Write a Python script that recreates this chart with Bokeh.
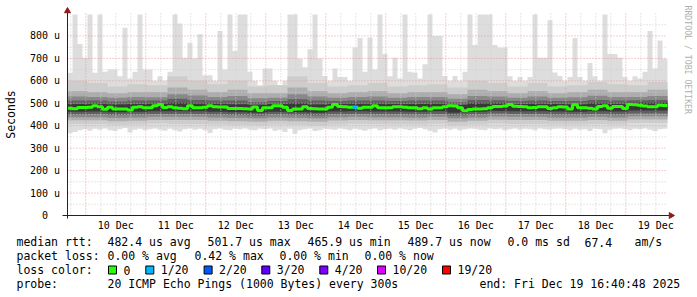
from datetime import datetime
from math import pi

from bokeh.plotting import figure
from bokeh.models import Range1d
from bokeh.core.properties import value
from bokeh.embed import file_html
from bokeh.resources import INLINE

# ---------------- data ----------------
ORIGIN = datetime(2025, 12, 10, 0, 0, 0)
START = datetime(2025, 12, 9, 16, 40, 48)
END = datetime(2025, 12, 19, 16, 40, 48)
BIN_HOURS = 2          # resolution of max/min/median series
BAND_HOURS = 8         # resolution of inner smoke bands

day_dates = [datetime(2025, 12, d) for d in range(10, 20)]
day_labels = ["10 Dec", "11 Dec", "12 Dec", "13 Dec", "14 Dec",
              "15 Dec", "16 Dec", "17 Dec", "18 Dec", "19 Dec"]
y_ticks = [0, 100, 200, 300, 400, 500, 600, 700, 800]
y_minor = [50, 150, 250, 350, 450, 550, 650, 750, 850]
y_labels = ["0\u00a0\u00a0", "100 u", "200 u", "300 u", "400 u",
            "500 u", "600 u", "700 u", "800 u"]

# max ping (us)
top = [636, 895, 764, 703, 895, 636, 895, 640, 650, 650,
       620, 837, 610, 640, 895, 650, 650, 600, 620, 600,
       640, 895, 855, 703, 770, 700, 808, 625, 625, 600,
       822, 650, 895, 733, 895, 895, 640, 600, 580, 655,
       655, 600, 580, 600, 895, 895, 698, 660, 741, 895,
       700, 622, 600, 655, 617, 617, 600, 748, 791, 640,
       793, 650, 895, 720, 620, 703, 610, 895, 640, 637,
       610, 674, 895, 800, 800, 622, 600, 622, 600, 640,
       895, 760, 895, 895, 895, 760, 748, 748, 620, 600,
       617, 600, 617, 895, 703, 703, 870, 637, 622, 600,
       617, 791, 617, 600, 680, 620, 600, 895, 720, 720,
       703, 617, 600, 620, 610, 640, 822, 655, 780, 698]
# min ping (us)
bot = [366, 372, 380, 384, 378, 386, 382, 388, 380, 376,
       384, 390, 370, 382, 386, 380, 384, 388, 382, 378,
       386, 380, 374, 384, 388, 382, 386, 380, 368, 384,
       388, 382, 380, 386, 384, 388, 382, 380, 386, 384,
       388, 378, 382, 372, 386, 364, 380, 384, 388, 376,
       380, 386, 384, 382, 388, 384, 380, 386, 382, 378,
       384, 388, 380, 384, 386, 382, 388, 384, 380, 386,
       390, 384, 378, 370, 384, 388, 382, 386, 380, 384,
       388, 386, 382, 380, 388, 384, 386, 380, 384, 388,
       382, 386, 384, 380, 388, 384, 382, 386, 388, 384,
       380, 386, 382, 384, 376, 386, 384, 366, 382, 386,
       388, 384, 380, 386, 384, 388, 382, 376, 384, 386]
# median rtt (us)
median = [478, 476, 481, 481, 482, 489, 485, 473, 482, 474,
          474, 475, 470, 482, 485, 480, 480, 489, 494, 481,
          485, 480, 478, 476, 489, 480, 480, 482, 489, 484,
          483, 483, 477, 477, 477, 476, 474, 483, 468, 480,
          480, 489, 489, 482, 468, 474, 474, 485, 477, 476,
          474, 474, 482, 495, 486, 485, 482, 482, 478, 482,
          482, 489, 480, 480, 480, 485, 485, 482, 480, 480,
          476, 480, 474, 480, 480, 484, 489, 488, 480, 467,
          472, 474, 474, 476, 480, 486, 486, 488, 495, 487,
          486, 484, 480, 481, 485, 485, 477, 480, 485, 483,
          474, 493, 480, 480, 478, 474, 486, 489, 478, 486,
          486, 477, 494, 493, 491, 488, 485, 485, 491, 490]
# lost pings out of 20
loss = [0, 0, 0, 0, 0, 0, 0, 0, 0, 0,
        0, 0, 0, 0, 0, 0, 0, 0, 0, 0,
        0, 0, 0, 0, 0, 0, 0, 0, 0, 0,
        0, 0, 0, 0, 0, 0, 0, 0, 0, 0,
        0, 0, 0, 0, 0, 0, 0, 0, 0, 0,
        0, 0, 0, 0, 0, 0, 0, 1, 0, 0,
        0, 0, 0, 0, 0, 0, 0, 0, 0, 0,
        0, 0, 0, 0, 0, 0, 0, 0, 0, 0,
        0, 0, 0, 0, 0, 0, 0, 0, 0, 0,
        0, 0, 0, 0, 0, 0, 0, 0, 0, 0,
        0, 0, 0, 0, 0, 0, 0, 0, 0, 0,
        0, 0, 0, 0, 0, 0, 0, 0, 0, 0]

# inner smoke bands (us), 8-hour resolution
hi2 = [600, 590, 575, 585, 580, 620, 600, 585, 600, 575, 580, 620, 590, 575, 580,
       590, 575, 580, 585, 570, 600, 590, 575, 590, 575, 580, 595, 585, 580, 595]
hi3 = [555, 550, 545, 550, 550, 570, 560, 550, 560, 545, 545, 570, 555, 545, 550,
       555, 545, 550, 550, 540, 560, 555, 545, 555, 545, 550, 560, 550, 550, 560]
hi4 = [530, 528, 525, 528, 527, 540, 535, 528, 532, 522, 525, 540, 530, 525, 528,
       530, 525, 528, 528, 520, 532, 530, 525, 530, 525, 527, 533, 528, 528, 532]
hi5 = [512, 512, 508, 512, 512, 520, 515, 512, 512, 505, 510, 518, 512, 510, 512,
       512, 510, 512, 512, 505, 515, 514, 510, 512, 510, 510, 515, 512, 514, 515]
hi6 = [497, 498, 494, 497, 498, 502, 499, 498, 496, 492, 497, 500, 495, 498, 498,
       498, 497, 497, 498, 492, 500, 500, 497, 498, 497, 496, 500, 498, 502, 502]
lo6 = [462, 463, 460, 462, 464, 465, 464, 462, 460, 458, 462, 460, 458, 463, 464,
       463, 463, 462, 464, 458, 462, 466, 465, 464, 463, 462, 464, 463, 468, 468]
lo5 = [450, 451, 448, 450, 452, 452, 452, 450, 448, 446, 450, 448, 446, 451, 452,
       451, 451, 450, 452, 446, 450, 454, 452, 452, 450, 450, 452, 450, 455, 455]
lo4 = [438, 438, 435, 437, 440, 440, 440, 437, 435, 433, 437, 435, 433, 438, 440,
       438, 438, 437, 440, 433, 437, 441, 440, 440, 437, 437, 440, 437, 442, 442]
lo3 = [424, 424, 420, 422, 426, 425, 425, 422, 420, 418, 422, 420, 418, 423, 425,
       424, 424, 423, 425, 418, 422, 427, 425, 425, 422, 422, 425, 422, 428, 428]
lo2 = [408, 408, 404, 406, 410, 408, 408, 405, 403, 402, 406, 403, 401, 406, 409,
       408, 407, 406, 409, 402, 405, 410, 408, 408, 405, 405, 408, 405, 412, 412]

loss_levels = [0, 1, 2, 3, 4, 10, 19]
loss_names = ["0", "1/20", "2/20", "3/20", "4/20", "10/20", "19/20"]
loss_colors = ["#26ff00", "#00b8ff", "#0059ff", "#5e00ff", "#7e00ff", "#dd00ff", "#ff0000"]

rtt_legend = ["median rtt:", "482.4 us avg", "501.7 us max", "465.9 us min",
              "489.7 us now", "0.0 ms sd", "67.4", "am/s"]
pl_legend = ["packet loss:", "0.00 % avg", "0.42 % max", "0.00 % min", "0.00 % now"]
probe_legend = ["probe:", "20 ICMP Echo Pings (1000 Bytes) every 300s",
                "end: Fri Dec 19 16:40:48 2025"]

# ---------------- geometry (canvas pixels of the graph area) ----------------
W, H = 697, 297
FL, FR, FT, FB = 67, 667, 13, 215
Y_MAX = 900

def hrs(dt):
    return (dt - ORIGIN).total_seconds() / 3600.0

x0, x1 = hrs(START), hrs(END)

def px2x(px):
    return x0 + (px - FL) * (x1 - x0) / (FR - FL)

def py2y(py):
    return (FB - py) * Y_MAX / (FB - FT)

edges = [x0 + BIN_HOURS * i for i in range(len(top) + 1)]
band_edges = [x0 + BAND_HOURS * j for j in range(len(hi2) + 1)]

def ext(a):
    return list(a) + [a[-1]]

FONT = value("DejaVu Sans Mono")

# The plotting frame covers the whole canvas; the graph area is the part
# between x0..x1 and 0..Y_MAX, the legend lives below it.
p = figure(width=W, height=H, x_range=Range1d(px2x(0), px2x(W)),
           y_range=Range1d(py2y(H), py2y(0)),
           output_backend="svg", toolbar_location=None, min_border=0,
           x_axis_type=None, y_axis_type=None)
p.outline_line_color = None
p.background_fill_color = "white"
p.border_fill_color = "white"

# smoke
p.varea_step(x=edges, y1=ext(bot), y2=ext(top), step_mode="after", fill_color="#dddddd")
bands = [(lo2, hi2, "#cdcdcd"), (lo3, hi3, "#adadad"), (lo4, hi4, "#888888"),
         (lo5, hi5, "#606060"), (lo6, hi6, "#383838")]
for lo, hi, col in bands:
    p.varea_step(x=band_edges, y1=ext(lo), y2=ext(hi), step_mode="after", fill_color=col)

# grid (drawn over the smoke, like rrdtool)
midnights = [hrs(d) for d in day_dates]
minor_x = []
h = midnights[0]
while h - 6 >= x0:
    h -= 6
while h <= x1:
    if all(abs(h - m) > 1e-6 for m in midnights):
        minor_x.append(h)
    h += 6
minor_col, major_col = "#cdcdcd", "#e99a9a"
p.segment(x0=minor_x, y0=[0] * len(minor_x), x1=minor_x, y1=[Y_MAX] * len(minor_x),
          line_color=minor_col, line_dash="1 2", line_width=1)
p.segment(x0=[x0] * len(y_minor), y0=y_minor, x1=[x1] * len(y_minor), y1=y_minor,
          line_color=minor_col, line_dash="1 2", line_width=1)
p.segment(x0=midnights, y0=[0] * len(midnights), x1=midnights, y1=[Y_MAX] * len(midnights),
          line_color=major_col, line_dash="1 2", line_width=1)
p.segment(x0=[x0] * 8, y0=y_ticks[1:], x1=[x1] * 8, y1=y_ticks[1:],
          line_color=major_col, line_dash="1 2", line_width=1)

# median line coloured by loss
p.step(x=edges, y=ext(median), mode="after", line_color=loss_colors[0], line_width=3)
lx0, lx1, ly, lc = [], [], [], []
for i, l in enumerate(loss):
    if l > 0:
        idx = max(k for k, lv in enumerate(loss_levels) if lv <= l)
        lx0.append(edges[i]); lx1.append(edges[i + 1]); ly.append(median[i]); lc.append(loss_colors[idx])
if lx0:
    p.segment(x0=lx0, y0=ly, x1=lx1, y1=ly, line_color=lc, line_width=3)

# axes with arrows
axis_col, head_col = "#222222", "#8e1b1b"
p.segment(x0=[px2x(62)], y0=[0], x1=[px2x(669)], y1=[0], line_color=axis_col, line_width=1)
p.segment(x0=[x0], y0=[py2y(218)], x1=[x0], y1=[py2y(11)], line_color=axis_col, line_width=1)
p.scatter(x=[px2x(670.5)], y=[0], marker="triangle", size=6, angle=-pi / 2,
          fill_color=head_col, line_color=head_col)
p.scatter(x=[x0], y=[py2y(10.5)], marker="triangle", size=6,
          fill_color=head_col, line_color=head_col)

# tick labels
noons = [hrs(d) + 12 for d in day_dates]
p.text(x=noons, y=[py2y(225)] * len(noons), text=day_labels, text_font=FONT,
       text_font_size=value("10px"), text_align="center", text_baseline="middle",
       text_color="black")
p.text(x=[px2x(59.6)] * len(y_ticks), y=y_ticks, text=y_labels, text_font=FONT,
       text_font_size=value("10px"), text_align="right", text_baseline="middle",
       text_color="black")
p.text(x=[px2x(10)], y=[py2y(114)], text=["Seconds"], angle=pi / 2, text_font=FONT,
       text_font_size=value("11.5px"), text_align="center", text_baseline="middle",
       text_color="black")
p.text(x=[px2x(687)], y=[py2y(5)], text=["RRDTOOL / TOBI OETIKER"], angle=-pi / 2,
       text_font=FONT, text_font_size=value("8.2px"), text_align="left",
       text_baseline="middle", text_color="#b0b0b0")

# legend
tx, ty, tt = [], [], []
for xx, s in zip([16, 107, 207, 307, 407, 507, 584, 634], rtt_legend):
    tx.append(xx); ty.append(241.5); tt.append(s)
for xx, s in zip([16, 107, 194, 279, 364], pl_legend):
    tx.append(xx); ty.append(255.5); tt.append(s)
tx.append(16); ty.append(269.5); tt.append("loss color:")
box_x = [112, 149.3, 207.6, 265.3, 323.3, 381, 446]
for xx, s in zip(box_x, loss_names):
    tx.append(xx + 11); ty.append(269.5); tt.append(s)
for xx, s in zip([16, 107, 479], probe_legend):
    tx.append(xx); ty.append(283.5); tt.append(s)
p.text(x=[px2x(v) for v in tx], y=[py2y(v) for v in ty], text=tt, text_font=FONT,
       text_font_size=value("11.5px"), text_align="left", text_baseline="middle",
       text_color="black")
p.quad(left=[px2x(c - 4) for c in box_x], right=[px2x(c + 4) for c in box_x],
       bottom=[py2y(273.5)] * len(box_x), top=[py2y(265.5)] * len(box_x),
       fill_color=loss_colors, line_color="black", line_width=1)

open("out.html", "w").write(file_html(p, INLINE))
